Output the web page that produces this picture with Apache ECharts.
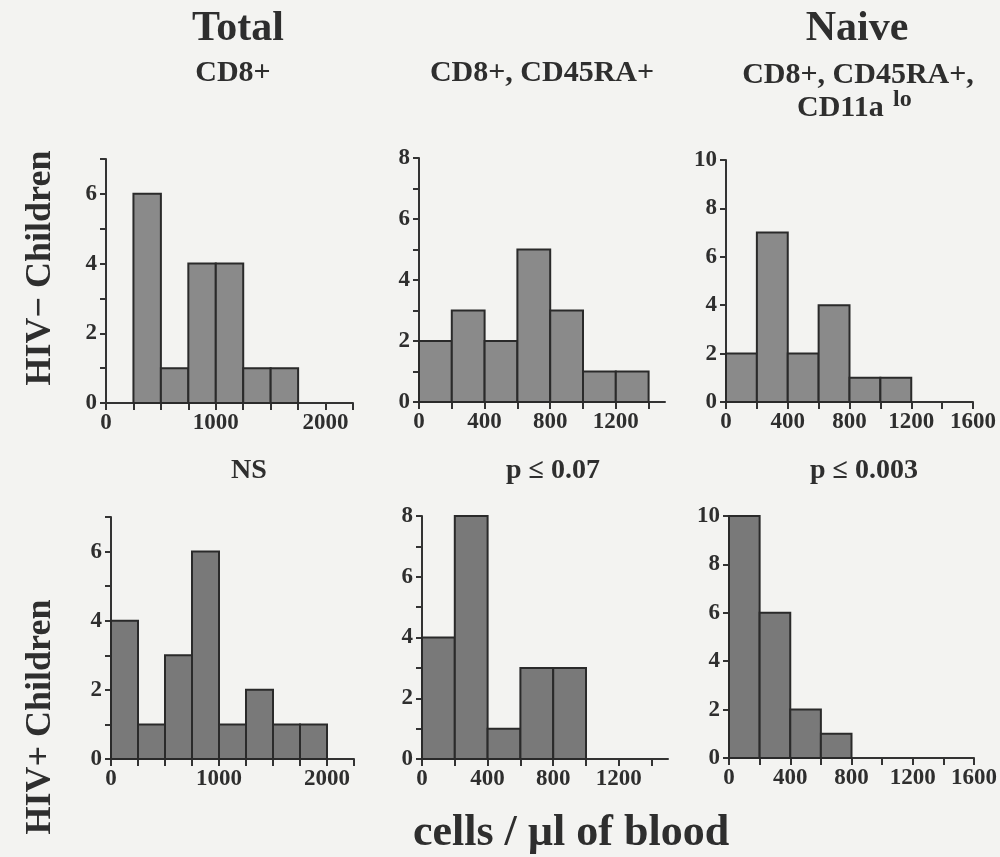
<!DOCTYPE html>
<html><head><meta charset="utf-8">
<script src="https://cdn.jsdelivr.net/npm/echarts@6/dist/echarts.min.js"></script>
<style>html,body{margin:0;padding:0;background:#f3f3f1}#c{width:1000px;height:857px}</style>
</head><body><div id="c"></div>
<script>
// ---- data ----
const binStartsTotal = [0, 250, 500, 750, 1000, 1250, 1500, 1750];
const binWidthTotal = 250;
const binStartsSub = [0, 200, 400, 600, 800, 1000, 1200, 1400];
const binWidthSub = 200;

const countsTotalNeg = [0, 6, 1, 4, 4, 1, 1, 0];
const countsRANeg    = [2, 3, 2, 5, 3, 1, 1, 0];
const countsNaiveNeg = [2, 7, 2, 4, 1, 1, 0, 0];
const countsTotalPos = [4, 1, 3, 6, 1, 2, 1, 1];
const countsRAPos    = [4, 8, 1, 3, 3, 0, 0, 0];
const countsNaivePos = [10, 6, 2, 1, 0, 0, 0, 0];

const xTicksTotal = [0, 250, 500, 750, 1000, 1250, 1500, 1750, 2000, 2250];
const xLabelsTotal = [0, 1000, 2000];
const xTicksRA = [0, 200, 400, 600, 800, 1000, 1200, 1400];
const xLabelsRA = [0, 400, 800, 1200];
const xTicksNaive = [0, 200, 400, 600, 800, 1000, 1200, 1400, 1600];
const xLabelsNaive = [0, 400, 800, 1200, 1600];

const yTicks7 = [0, 1, 2, 3, 4, 5, 6, 7];
const yLabels7 = [0, 2, 4, 6];
const yTicks8 = [0, 1, 2, 3, 4, 5, 6, 7, 8];
const yLabels8 = [0, 2, 4, 6, 8];
const yTicks10 = [0, 2, 4, 6, 8, 10];
const yLabels10 = [0, 2, 4, 6, 8, 10];

const columnHeads = ['Total', '', 'Naive'];
const columnSubs = ['CD8+', 'CD8+, CD45RA+', 'CD8+, CD45RA+,'];
const rowLabels = ['HIV\u2212 Children', 'HIV+ Children'];
const pValues = ['NS', 'p \u2264 0.07', 'p \u2264 0.003'];
const xAxisTitle = 'cells / \u00b5l of blood';

// ---- layout ----
const FONT = '"Liberation Serif", "DejaVu Serif", serif';
const INK = '#2e2e2e';
const panels = [
  {grid:{left:106, top:159, width:247, height:244}, xmax:2250, ymax:7, starts:binStartsTotal, w:binWidthTotal, counts:countsTotalNeg, xt:xTicksTotal, xl:xLabelsTotal, yt:yTicks7, yl:yLabels7, fill:'#8a8a8a'},
  {grid:{left:419, top:158, width:246, height:244}, xmax:1500, ymax:8, starts:binStartsSub, w:binWidthSub, counts:countsRANeg, xt:xTicksRA, xl:xLabelsRA, yt:yTicks8, yl:yLabels8, fill:'#8a8a8a'},
  {grid:{left:726, top:160, width:247, height:242}, xmax:1600, ymax:10, starts:binStartsSub, w:binWidthSub, counts:countsNaiveNeg, xt:xTicksNaive, xl:xLabelsNaive, yt:yTicks10, yl:yLabels10, fill:'#8a8a8a'},
  {grid:{left:111, top:517, width:243, height:242}, xmax:2250, ymax:7, starts:binStartsTotal, w:binWidthTotal, counts:countsTotalPos, xt:xTicksTotal, xl:xLabelsTotal, yt:yTicks7, yl:yLabels7, fill:'#797979'},
  {grid:{left:422, top:516, width:246, height:243}, xmax:1500, ymax:8, starts:binStartsSub, w:binWidthSub, counts:countsRAPos, xt:xTicksRA, xl:xLabelsRA, yt:yTicks8, yl:yLabels8, fill:'#797979'},
  {grid:{left:729, top:516, width:246, height:242}, xmax:1600, ymax:10, starts:binStartsSub, w:binWidthSub, counts:countsNaivePos, xt:xTicksNaive, xl:xLabelsNaive, yt:yTicks10, yl:yLabels10, fill:'#797979'}
];

const axisLineStyle = {color:'#333', width:2};
const labelStyle = {fontFamily:FONT, fontWeight:'bold', fontSize:23, color:INK, formatter:function(v){ return String(v); }};

const grids = [], xAxes = [], yAxes = [], series = [];
panels.forEach((p, i) => {
  grids.push(p.grid);
  xAxes.push({
    type:'value', gridIndex:i, min:0, max:p.xmax,
    axisLine:{show:true, onZero:false, lineStyle:axisLineStyle},
    axisTick:{show:true, length:7, lineStyle:axisLineStyle, customValues:p.xt},
    axisLabel:Object.assign({customValues:p.xl, margin:9}, labelStyle),
    splitLine:{show:false}
  });
  yAxes.push({
    type:'value', gridIndex:i, min:0, max:p.ymax,
    axisLine:{show:true, onZero:false, lineStyle:axisLineStyle},
    axisTick:{show:true, length:6, lineStyle:axisLineStyle, customValues:p.yt},
    axisLabel:Object.assign({customValues:p.yl, margin:9}, labelStyle),
    splitLine:{show:false}
  });
  const data = [];
  p.starts.forEach((s, k) => { if (p.counts[k] > 0) data.push([s, s + p.w, p.counts[k]]); });
  const fill = p.fill;
  series.push({
    type:'custom', xAxisIndex:i, yAxisIndex:i, clip:false,
    encode:{x:[0,1], y:2},
    data:data,
    renderItem:function(params, api){
      const a = api.coord([api.value(0), api.value(2)]);
      const b = api.coord([api.value(1), 0]);
      return {type:'rect', shape:{x:a[0], y:a[1], width:b[0]-a[0], height:b[1]-a[1]},
        style:{fill:fill, stroke:'#2a2a2a', lineWidth:2}};
    }
  });
});

function txt(text, x, y, size, opts){
  return Object.assign({type:'text', x:x, y:y, style:{text:text, font:'bold ' + size + 'px ' + FONT, fill:INK, textAlign:'center', textVerticalAlign:'middle'}}, opts || {});
}
const graphics = [
  txt(columnHeads[0], 238, 29, 42),
  txt(columnHeads[2], 857, 29, 42),
  txt(columnSubs[0], 233, 73, 30),
  txt(columnSubs[1], 542, 73, 30),
  txt(columnSubs[2], 858, 75, 30),
  {type:'text', x:797, y:108, style:{text:'CD11a', font:'bold 30px ' + FONT, fill:INK, textAlign:'left', textVerticalAlign:'middle'}},
  {type:'text', x:893, y:100, style:{text:'lo', font:'bold 24px ' + FONT, fill:INK, textAlign:'left', textVerticalAlign:'middle'}},
  txt(pValues[0], 249, 471, 28),
  txt(pValues[1], 553, 471, 28),
  txt(pValues[2], 864, 471, 28),
  txt(rowLabels[0], 41, 268, 36, {rotation:Math.PI/2}),
  txt(rowLabels[1], 41, 717, 36, {rotation:Math.PI/2}),
  txt(xAxisTitle, 571, 834, 44)
];

const chart = echarts.init(document.getElementById('c'), null, {renderer:'canvas'});
chart.setOption({
  backgroundColor:'#f3f3f1',
  animation:false,
  grid:grids, xAxis:xAxes, yAxis:yAxes, series:series,
  graphic:graphics
});
</script></body></html>
